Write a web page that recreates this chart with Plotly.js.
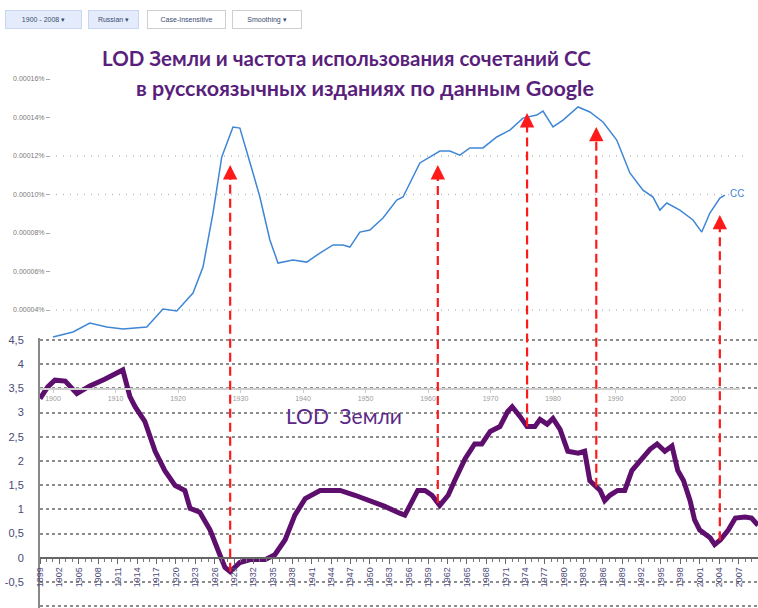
<!DOCTYPE html>
<html><head><meta charset="utf-8">
<script src="https://cdn.plot.ly/plotly-3.0.1.min.js"></script>
<style>html,body{margin:0;padding:0;background:#fff}#chart{width:758px;height:608px}</style>
</head><body><div id="chart"></div>
<script>
// ---- LOD of the Earth (bottom chart) ----
const lodYears = [1899.0,1900.2,1901.3,1902.9,1904.7,1906.7,1909.0,1911.4,1911.8,1912.9,1913.7,1915.2,1916.8,1918.3,1919.9,1921.4,1922.2,1923.7,1925.3,1926.8,1927.6,1928.4,1929.9,1931.5,1933.8,1935.3,1936.9,1938.4,1940.0,1942.3,1945.4,1947.7,1950.0,1952.3,1954.6,1955.4,1956.2,1957.4,1958.5,1959.6,1960.8,1962.1,1963.1,1964.7,1966.2,1967.3,1968.6,1970.1,1971.3,1972.0,1973.2,1974.3,1975.5,1976.3,1977.4,1978.3,1979.4,1980.6,1982.2,1983.2,1984.0,1984.8,1985.6,1986.3,1987.1,1988.3,1989.4,1990.5,1991.7,1993.3,1994.4,1995.6,1996.7,1997.6,1998.5,1999.5,2000.2,2001.0,2002.6,2003.3,2004.2,2005.4,2006.5,2008.0,2009.0,2010.0];
const lodValues = [3.29,3.53,3.67,3.65,3.39,3.55,3.69,3.84,3.88,3.33,3.12,2.82,2.2,1.8,1.49,1.39,1.02,0.94,0.57,0.06,-0.2,-0.29,-0.1,-0.04,-0.04,0.06,0.37,0.88,1.22,1.39,1.39,1.29,1.18,1.06,0.92,0.88,1.08,1.39,1.39,1.29,1.08,1.29,1.59,2.04,2.35,2.35,2.61,2.71,3.02,3.12,2.92,2.71,2.71,2.86,2.76,2.88,2.65,2.2,2.16,2.2,1.59,1.49,1.39,1.18,1.29,1.39,1.39,1.8,2.0,2.24,2.35,2.2,2.31,1.8,1.59,1.18,0.78,0.57,0.41,0.27,0.37,0.57,0.82,0.84,0.82,0.67];
const lodTickVals = [-1,-0.5,0,0.5,1,1.5,2,2.5,3,3.5,4,4.5];
const lodTickText = ['-1','-0,5','0','0,5','1','1,5','2','2,5','3','3,5','4','4,5'];

// ---- Google Ngram frequency of "СС" (top chart), values in units of 1e-5 % ----
const ngramYears = [1900.0,1903.2,1905.9,1908.6,1911.2,1915.0,1917.6,1919.8,1922.4,1924.0,1925.6,1927.0,1928.8,1929.9,1932.0,1933.1,1934.7,1936.0,1938.4,1940.6,1942.7,1944.8,1946.4,1947.5,1949.1,1950.7,1952.8,1955.0,1956.0,1958.7,1961.9,1963.5,1965.1,1966.7,1968.8,1971.0,1973.1,1975.2,1977.4,1978.4,1980.0,1981.6,1984.0,1985.9,1988.0,1990.2,1992.3,1994.4,1996.0,1997.1,1998.2,2000.3,2002.4,2003.8,2005.1,2006.7,2007.5];
const ngramE5 = [2.60,2.86,3.32,3.12,3.01,3.12,4.05,3.95,4.88,6.23,9.04,11.95,13.51,13.45,11.12,9.87,7.64,6.44,6.60,6.49,6.96,7.38,7.38,7.27,8.05,8.16,8.78,9.71,9.87,11.64,12.26,12.26,12.05,12.42,12.42,12.99,13.35,13.97,14.13,14.34,13.51,13.87,14.55,14.29,13.77,12.83,11.12,10.23,9.87,9.19,9.56,9.19,8.68,8.05,9.04,9.82,9.97];
const ngramTickE5 = [4,6,8,10,12,14,16];
const ngramTickText = ['0.00004%','0.00006%','0.00008%','0.00010%','0.00012%','0.00014%','0.00016%'];
const ngramGridE5 = [4,10,12];
const ngramYearTicks = [1900,1910,1920,1930,1940,1950,1960,1970,1980,1990,2000];

// ---- correspondence arrows ----
const arrowYears = [1928.4,1960.5,1974.3,1985.0,2004.1];
const arrowTipE5 = [11.53,11.53,14.23,13.51,8.94];

// ---- texts ----
const titleLine1 = 'LOD Земли и частота использования сочетаний СС';
const titleLine2 = 'в русскоязычных изданиях по данным Google';
const lodLabel = 'LOD  Земли';
const seriesLabel = 'СС';
const toolbar = ['1900 - 2008 ▾','Russian ▾','Case-Insensitive','Smoothing ▾'];

const W = 758, H = 608;
const fx = p => p / W, fy = p => 1 - p / H;

const xDomB = [fx(40), 1], xRngB = [1899, 2010];
const yDomB = [0, fy(338)], yRngB = [-1.04, 4.541];
const xDomT = [fx(40), fx(740)], xRngT = [1897.92, 2009.92];
const yDomT = [fy(388), fy(75)], yRngT = [-0.05e-5, 16.21e-5];

const lin = (v, r, d) => d[0] + (v - r[0]) / (r[1] - r[0]) * (d[1] - d[0]);
function interp(xs, ys, x) {
  for (let i = 0; i < xs.length - 1; i++) {
    if (x >= xs[i] && x <= xs[i + 1]) return ys[i] + (ys[i + 1] - ys[i]) * (x - xs[i]) / (xs[i + 1] - xs[i]);
  }
  return ys[ys.length - 1];
}

const ngramValues = ngramE5.map(v => v * 1e-5);

const traces = [
  {x: ngramYears, y: ngramValues, xaxis: 'x2', yaxis: 'y2', mode: 'lines',
   line: {color: '#3f86d6', width: 1.5}, hoverinfo: 'skip'},
  {x: lodYears, y: lodValues, xaxis: 'x', yaxis: 'y', mode: 'lines',
   line: {color: '#5e0f6e', width: 5}, hoverinfo: 'skip'}
];

const shapes = [];
const annotations = [];

// top chart dotted gridlines
ngramGridE5.forEach(g => {
  shapes.push({type: 'line', xref: 'paper', yref: 'y2', x0: fx(56), x1: fx(745), y0: g * 1e-5, y1: g * 1e-5,
    line: {color: '#bdbdbd', width: 1.5, dash: '1px,6px'}, layer: 'below'});
});

// arrows
arrowYears.forEach((yr, i) => {
  const xp = lin(yr, xRngB, xDomB);
  const yBot = lin(interp(lodYears, lodValues, yr), yRngB, yDomB);
  const yTip = lin(arrowTipE5[i] * 1e-5, yRngT, yDomT);
  shapes.push({type: 'line', xref: 'paper', yref: 'paper', x0: xp, x1: xp, y0: yBot, y1: yTip - 9 / H,
    line: {color: '#ff1a1a', width: 2.2, dash: '9px,5px'}, layer: 'above'});
  annotations.push({xref: 'paper', yref: 'paper', x: xp, y: yTip, text: '', showarrow: true,
    ax: 0, ay: 11, arrowhead: 2, arrowsize: 1.2, arrowwidth: 2.4, arrowcolor: '#ff1a1a'});
});

// titles
annotations.push({xref: 'paper', yref: 'paper', x: fx(346), y: fy(58), text: '<b>' + titleLine1 + '</b>', showarrow: false,
  font: {family: 'Lato, sans-serif', size: 20.5, color: '#5a1f7c'}, xanchor: 'center', yanchor: 'middle'});
annotations.push({xref: 'paper', yref: 'paper', x: fx(365), y: fy(88), text: '<b>' + titleLine2 + '</b>', showarrow: false,
  font: {family: 'Lato, sans-serif', size: 21.5, color: '#5a1f7c'}, xanchor: 'center', yanchor: 'middle'});
annotations.push({xref: 'paper', yref: 'paper', x: fx(344), y: fy(415), text: lodLabel, showarrow: false,
  font: {family: 'Lato, sans-serif', size: 21, color: '#5b2a88'}, xanchor: 'center', yanchor: 'middle'});
annotations.push({xref: 'x2', yref: 'y2', x: ngramYears[ngramYears.length - 1], y: ngramValues[ngramValues.length - 1],
  text: seriesLabel, showarrow: false, xanchor: 'left', xshift: 3, yshift: 2,
  font: {family: 'Liberation Sans, sans-serif', size: 10, color: '#3f86d6'}});

// toolbar pills
const pills = [[5, 73, '#e4ecfb', '#c9d6f3'], [88, 47, '#e4ecfb', '#c9d6f3'], [147, 75, '#ffffff', '#cfcfcf'], [232, 66, '#ffffff', '#cfcfcf']];
pills.forEach((p, i) => {
  annotations.push({xref: 'paper', yref: 'paper', x: fx(p[0]), y: fy(19), xanchor: 'left', yanchor: 'middle',
    text: toolbar[i], showarrow: false, width: p[1], height: 15, bgcolor: p[2], bordercolor: p[3], borderwidth: 1,
    font: {family: 'Liberation Sans, sans-serif', size: 7, color: '#3a4a70'}});
});

const layout = {
  width: W, height: H, margin: {l: 0, r: 0, t: 0, b: 0},
  paper_bgcolor: '#ffffff', plot_bgcolor: 'rgba(0,0,0,0)', showlegend: false, hovermode: false,
  xaxis: {domain: xDomB, range: xRngB, anchor: 'free', position: lin(0, yRngB, yDomB),
    tick0: 1899, dtick: 3, tickangle: -90, ticks: 'outside', ticklen: 5, tickcolor: '#666', tickwidth: 1,
    minor: {dtick: 1, ticks: 'outside', ticklen: 3, tickcolor: '#777'},
    showline: true, linecolor: '#666', linewidth: 2, showgrid: false, zeroline: false,
    tickfont: {family: 'Liberation Sans, sans-serif', size: 9, color: '#4a4a78'}},
  yaxis: {domain: yDomB, range: yRngB, anchor: 'x', tickvals: lodTickVals, ticktext: lodTickText,
    showline: true, linecolor: '#888', linewidth: 2, showgrid: true, gridcolor: '#8c8c8c', gridwidth: 2, griddash: 'dot',
    zeroline: false, ticks: '', ticklabelstandoff: 12,
    tickfont: {family: 'Liberation Sans, sans-serif', size: 11, color: '#4a4a78'}},
  xaxis2: {domain: xDomT, range: xRngT, anchor: 'y2', tickvals: ngramYearTicks,
    ticks: 'outside', ticklen: 3, tickcolor: '#cccccc', showline: true, linecolor: '#cfcfcf', linewidth: 2,
    showgrid: false, zeroline: false, tickfont: {family: 'Liberation Sans, sans-serif', size: 7, color: '#9a9a9a'}},
  yaxis2: {domain: yDomT, range: yRngT, anchor: 'free', position: fx(50),
    tickvals: ngramTickE5.map(v => v * 1e-5), ticktext: ngramTickText,
    ticks: 'outside', ticklen: 4, tickcolor: '#aaaaaa', showline: false, showgrid: false, zeroline: false,
    tickfont: {family: 'Liberation Sans, sans-serif', size: 7, color: '#7a7a7a'}},
  shapes: shapes, annotations: annotations
};

Plotly.newPlot('chart', traces, layout, {staticPlot: true, displayModeBar: false});
</script></body></html>
